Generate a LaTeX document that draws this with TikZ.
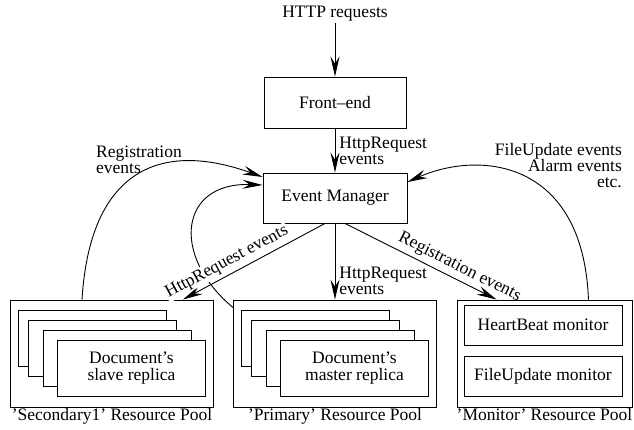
\documentclass[tikz,border=0pt]{standalone}
\usepackage{fontspec}
\setmainfont{Liberation Serif}
\usetikzlibrary{arrows.meta, calc}
\tikzset{
  box/.style={
    rectangle, draw=black, line width=0.9pt, fill=white,
    minimum width=144pt, minimum height=50pt,
    align=center, inner sep=0pt,
    font=\fontsize{17.5}{17}\selectfont
  },
  pool/.style={
    rectangle, draw=black, line width=0.9pt,
    minimum width=203pt, minimum height=107pt
  },
  card/.style={box, minimum width=148pt, minimum height=56pt},
  mon/.style ={box, minimum width=158pt, minimum height=40pt},
  arr/.style ={-{Stealth[length=20pt, width=9pt, inset=7pt]}, line width=0.9pt},
  lbl/.style ={font=\fontsize{17.5}{16}\selectfont, inner sep=1pt, align=left},
}
\begin{document}
\begin{tikzpicture}[x=1pt, y=-1pt]
\useasboundingbox (0,0) rectangle (634,429);

%% -- main chain --------------------------------------------------------------
\node[lbl] (httpin) at (335,14) {HTTP requests};
\node[box, minimum width=142pt, minimum height=51pt] (frontend) at (335,102.5) {Front--end};
\node[box] (evmgr) at (335,198) {Event Manager};

%% -- resource pools ----------------------------------------------------------
\node[pool] (secpool) at (112,353.5) {};
\node[pool] (pripool) at (335,353.5) {};
\node[pool, minimum width=175pt] (monpool) at (544.5,353.5) {};

\node[lbl, anchor=north] (seclbl) at (secpool.south) {'Secondary1' Resource Pool};
\node[lbl, anchor=north] (prilbl) at (pripool.south) {'Primary' Resource Pool};
\node[lbl, anchor=north] (monplbl) at (monpool.south) {'Monitor' Resource Pool};

%% -- stacked replicas --------------------------------------------------------
\node[card] (slave1) at (92,338)    {};
\node[card] (slave2) at (102,348)   {};
\node[card] (slave3) at (117,358)   {};
\node[card] (slave4) at (131.5,368) {Document's\\slave replica};

\node[card] (master1) at (315,338)   {};
\node[card] (master2) at (325,348)   {};
\node[card] (master3) at (340,358)   {};
\node[card] (master4) at (354.5,368) {Document's\\master replica};

%% -- monitors ----------------------------------------------------------------
\node[mon] (heartbeat) at (543,325) {HeartBeat monitor};
\node[mon] (fileupd)   at (543,376) {FileUpdate monitor};

%% -- free labels -------------------------------------------------------------
\node[lbl, anchor=west] (reglbl) at (95,160) {Registration\\events};
\node[lbl, anchor=east, align=right] (monlbl) at (623,166) {FileUpdate events\\Alarm events\\etc.};

%% -- curved returns to the event manager -------------------------------------
\draw[arr] ($(secpool.north)+(-30,0)$) .. controls (90,170) and (160,140) .. ($(evmgr.west)+(0,-21)$);
\draw[arr] ($(pripool.north west)+(0,8)$) .. controls (170,255) and (180,182) .. ($(evmgr.west)+(0,-13)$);
\draw[arr] ($(monpool.north east)+(-44,0)$) .. controls (583,160) and (480,150) .. ($(evmgr.east)+(0,-16)$);

%% -- straight arrows ---------------------------------------------------------
\draw[arr] (httpin) -- (frontend);
\draw[arr] (frontend) -- node[lbl, right=3pt, pos=0.5]{HttpRequest\\events} (evmgr);
\draw[arr] (evmgr) -- node[lbl, right=3pt, pos=0.75]{HttpRequest\\events} (pripool);
\draw[arr] ($(evmgr.south)+(-10,0)$) -- node[lbl, sloped, above=3pt, pos=0.65, fill=white]{HttpRequest events} ($(secpool.north east)+(-31,0)$);
\draw[arr] ($(evmgr.south)+(10,0)$) -- node[lbl, sloped, above=3pt, pos=0.72]{Registration events} ($(monpool.north west)+(40,0)$);

\end{tikzpicture}
\end{document}
